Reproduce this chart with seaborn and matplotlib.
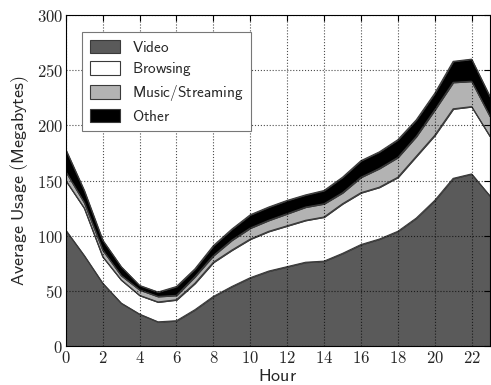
import numpy as np
import pandas as pd
import matplotlib
matplotlib.use('Agg')
import matplotlib.pyplot as plt
import seaborn as sns
from matplotlib.ticker import FuncFormatter, MultipleLocator

hours = list(range(24))
video = [105, 82, 57, 39, 29, 22, 23, 33, 45, 54, 62, 68,
         72, 76, 77, 84, 92, 97, 104, 116, 132, 152, 156, 136]
browsing = [45, 43, 24, 21, 17, 18, 19, 24, 31, 33, 35, 36,
            37, 38, 40, 45, 47, 47, 49, 56, 59, 63, 61, 54]
music = [8, 5, 6, 4, 5, 5, 4, 6, 6, 9, 10, 10,
         11, 12, 12, 10, 14, 17, 18, 18, 23, 24, 23, 18]
other = [20, 11, 9, 8, 4, 4, 8, 7, 9, 10, 12, 12,
         12, 11, 12, 14, 15, 15, 16, 15, 15, 19, 20, 18]
labels = ['Video', 'Browsing', 'Music/Streaming', 'Other']
colors = ['#5a5a5a', '#ffffff', '#b3b3b3', '#000000']

df = pd.DataFrame({'Hour': hours, 'Video': video, 'Browsing': browsing,
                   'Music/Streaming': music, 'Other': other})

sns.set_theme(style='white')
plt.rcParams['mathtext.fontset'] = 'cm'

fig = plt.figure(figsize=(4.91, 3.85), dpi=100)
ax = fig.add_axes([0.134, 0.101, 0.864, 0.86])

ax.stackplot(df['Hour'], [df[c] for c in labels], labels=labels,
             colors=colors, edgecolor='#3a3a3a', linewidth=0.8)

cum = df[labels].cumsum(axis=1)
for c in labels:
    sns.lineplot(x=df['Hour'], y=cum[c], ax=ax, color='#3a3a3a',
                 linewidth=0.8, legend=False)

ax.set_xlim(0, 23)
ax.set_ylim(0, 300)
ax.xaxis.set_major_locator(MultipleLocator(2))
ax.yaxis.set_major_locator(MultipleLocator(50))
fmt = FuncFormatter(lambda v, p: r'$%d$' % v)
ax.xaxis.set_major_formatter(fmt)
ax.yaxis.set_major_formatter(fmt)
ax.tick_params(direction='in', length=4, width=0.8, color='black',
               labelsize=12, top=True, right=True, pad=2)

ax.set_axisbelow(False)
ax.grid(True, linestyle=':', color='black', linewidth=0.8, alpha=0.7)
for s in ax.spines.values():
    s.set_color('black')
    s.set_linewidth(0.8)

ax.set_xlabel(r'$\mathsf{Hour}$', fontsize=13, labelpad=0)
ax.set_ylabel(r'$\mathsf{Average\ Usage\ (Megabytes)}$', fontsize=13,
              labelpad=4)

handles, lbls = ax.get_legend_handles_labels()
lbls = [r'$\mathsf{%s}$' % l for l in lbls]
leg = ax.legend(handles, lbls, loc='upper left',
                bbox_to_anchor=(0.038, 0.949), borderaxespad=0,
                fontsize=11, frameon=True, fancybox=False,
                edgecolor='#777777', framealpha=1, handlelength=2.0,
                handleheight=1.0, labelspacing=0.35, borderpad=0.5,
                handletextpad=0.8)
leg.get_frame().set_linewidth(0.8)
for h in leg.legend_handles:
    h.set_edgecolor('#3a3a3a')

fig.savefig('out.png', dpi=100)
